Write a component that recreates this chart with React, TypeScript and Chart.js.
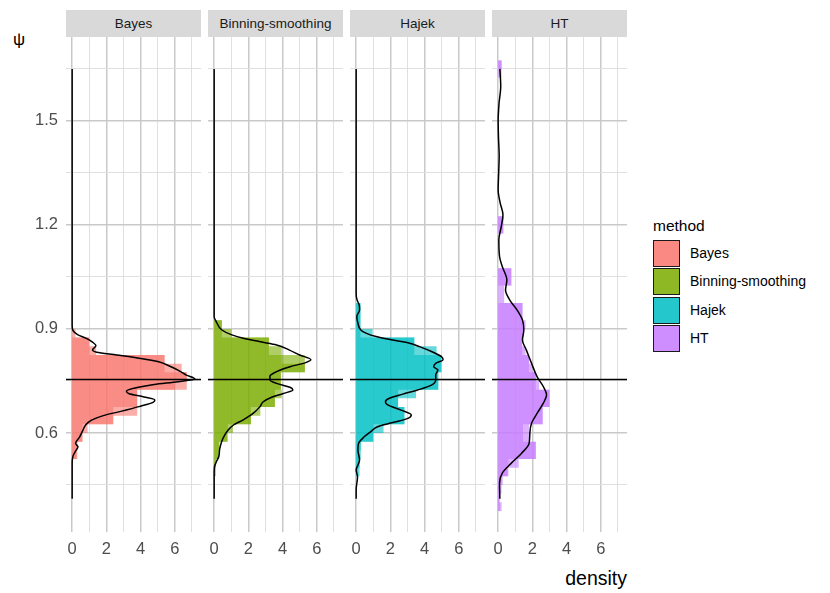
import { useEffect, useRef } from 'react';
import { Chart, registerables } from 'chart.js';

Chart.register(...registerables);

const FONT = '"Liberation Sans", Arial, Helvetica, sans-serif';

const METHODS = ['Bayes', 'Binning-smoothing', 'Hajek', 'HT'];
const METHOD_RGB = ['248,118,109', '124,174,0', '0,191,196', '199,124,255'];

const TRUE_PSI = 0.754;
const PSI_RANGE = [0.3144, 1.742];
const DENSITY_RANGE = [-0.36, 7.53];
const PSI_TICKS = [0.6, 0.9, 1.2, 1.5];
const PSI_MINOR = [0.45, 0.75, 1.05, 1.35, 1.65];
const DENSITY_TICKS = [0, 2, 4, 6];
const DENSITY_MINOR = [1, 3, 5, 7];

// histogram, binwidth 0.05 (bin centres)
const COARSE_WIDTH = 0.05;
const COARSE_PSI = [0.4, 0.45, 0.5, 0.55, 0.6, 0.65, 0.7, 0.75, 0.8, 0.85, 0.9, 0.95, 1.0, 1.05, 1.1, 1.15, 1.2, 1.25, 1.3, 1.35, 1.4, 1.45, 1.5, 1.55, 1.6, 1.65];
const BAYES_COARSE = [0, 0, 0.05, 0.3, 0.6, 2.4, 3.8, 6.7, 5.4, 1.0, 0, 0, 0, 0, 0, 0, 0, 0, 0, 0, 0, 0, 0, 0, 0, 0];
const BINNING_COARSE = [0, 0, 0.1, 0.3, 0.8, 2.15, 3.55, 3.9, 5.3, 3.2, 0.45, 0, 0, 0, 0, 0, 0, 0, 0, 0, 0, 0, 0, 0, 0, 0];
const HAJEK_COARSE = [0, 0, 0.2, 0.27, 1.0, 2.82, 2.45, 4.8, 4.98, 3.4, 0.25, 0.25, 0, 0, 0, 0, 0, 0, 0, 0, 0, 0, 0, 0, 0, 0];
const HT_COARSE = [0.1, 0.2, 0.6, 2.2, 1.45, 2.6, 3.0, 2.2, 1.8, 1.4, 1.45, 1.42, 0.35, 0.77, 0, 0, 0.3, 0, 0, 0, 0, 0, 0, 0, 0, 0.2];

// histogram, binwidth 0.025 (bin centres)
const FINE_WIDTH = 0.025;
const FINE_PSI = [
  0.3875, 0.4125, 0.4375, 0.4625, 0.4875, 0.5125, 0.5375, 0.5625, 0.5875, 0.6125, 0.6375, 0.6625, 0.6875,
  0.7125, 0.7375, 0.7625, 0.7875, 0.8125, 0.8375, 0.8625, 0.8875, 0.9125, 0.9375, 0.9625, 0.9875, 1.0125,
  1.0375, 1.0625, 1.0875, 1.1125, 1.1375, 1.1625, 1.1875, 1.2125, 1.2375, 1.2625, 1.2875, 1.3125, 1.3375,
  1.3625, 1.3875, 1.4125, 1.4375, 1.4625, 1.4875, 1.5125, 1.5375, 1.5625, 1.5875, 1.6125, 1.6375, 1.6625,
];
const BAYES_FINE = [
  0, 0, 0, 0, 0, 0, 0.25, 0.3, 0.6, 0.9, 2.4, 3.8, 3.8,
  3.8, 6.0, 6.7, 6.4, 5.4, 1.4, 1.0, 0.2, 0, 0, 0, 0, 0,
  0, 0, 0, 0, 0, 0, 0, 0, 0, 0, 0, 0, 0,
  0, 0, 0, 0, 0, 0, 0, 0, 0, 0, 0, 0, 0,
];
const BINNING_FINE = [
  0, 0, 0, 0, 0, 0.1, 0.25, 0.3, 0.75, 1.1, 2.15, 2.7, 3.55,
  3.95, 3.9, 3.9, 5.3, 3.95, 3.95, 3.2, 1.03, 0.45, 0, 0, 0, 0,
  0, 0, 0, 0, 0, 0, 0, 0, 0, 0, 0, 0, 0,
  0, 0, 0, 0, 0, 0, 0, 0, 0, 0, 0, 0, 0,
];
const HAJEK_FINE = [
  0, 0, 0, 0, 0.1, 0.2, 0.2, 0.27, 1.0, 1.6, 2.82, 2.82, 2.45,
  3.5, 4.8, 4.8, 4.98, 4.98, 4.7, 3.4, 0.96, 0.25, 0.25, 0.25, 0, 0,
  0, 0, 0, 0, 0, 0, 0, 0, 0, 0, 0, 0, 0,
  0, 0, 0, 0, 0, 0, 0, 0, 0, 0, 0, 0, 0,
];
const HT_FINE = [
  0.2, 0.05, 0.1, 0.27, 0.55, 1.2, 2.2, 2.2, 1.8, 1.8, 2.6, 2.6, 3.0,
  3.0, 2.4, 2.2, 2.0, 1.8, 1.6, 1.4, 1.45, 1.6, 1.42, 1.42, 0, 0,
  0.77, 0.77, 0, 0, 0, 0, 0.3, 0.3, 0, 0, 0, 0, 0,
  0, 0, 0, 0, 0, 0, 0, 0, 0, 0, 0, 0, 0.2,
];

// kernel density curves
const BAYES_CURVE_PSI = [0.41, 0.51, 0.527, 0.537, 0.551, 0.56, 0.57, 0.589, 0.604, 0.623, 0.637, 0.65, 0.663, 0.676, 0.689, 0.695, 0.704, 0.714, 0.721, 0.731, 0.74, 0.748, 0.756, 0.767, 0.777, 0.791, 0.806, 0.815, 0.825, 0.833, 0.839, 0.852, 0.862, 0.873, 0.883, 0.895, 0.91, 1.65];
const BAYES_CURVE = [0, 0, 0.02, 0.08, 0.24, 0.34, 0.2, 0.44, 0.59, 0.79, 1.13, 1.82, 2.9, 3.9, 4.75, 4.83, 4.2, 3.3, 3.17, 3.8, 4.79, 6.18, 7.17, 6.67, 6.34, 5.78, 5.0, 4.0, 2.6, 1.43, 1.19, 1.39, 1.19, 0.83, 0.34, 0.05, 0, 0];
const BINNING_CURVE_PSI = [0.41, 0.484, 0.503, 0.517, 0.532, 0.556, 0.585, 0.609, 0.623, 0.638, 0.657, 0.676, 0.69, 0.703, 0.714, 0.724, 0.732, 0.743, 0.753, 0.764, 0.777, 0.791, 0.803, 0.811, 0.825, 0.839, 0.854, 0.863, 0.873, 0.883, 0.897, 0.921, 0.935, 1.65];
const BINNING_CURVE = [0, 0, 0.02, 0.13, 0.27, 0.33, 0.52, 0.83, 1.13, 1.7, 2.29, 2.68, 2.87, 3.36, 4.04, 4.6, 4.43, 3.65, 3.26, 3.26, 3.65, 4.43, 5.35, 5.65, 5.0, 4.4, 3.65, 2.7, 1.7, 1.03, 0.45, 0.12, 0, 0];
const HAJEK_CURVE_PSI = [0.41, 0.436, 0.474, 0.493, 0.522, 0.551, 0.57, 0.589, 0.604, 0.618, 0.63, 0.642, 0.652, 0.666, 0.681, 0.69, 0.7, 0.712, 0.724, 0.738, 0.753, 0.767, 0.782, 0.791, 0.801, 0.811, 0.82, 0.835, 0.849, 0.859, 0.868, 0.878, 0.888, 0.897, 0.917, 0.936, 0.955, 0.969, 0.984, 1.0, 1.65];
const HAJEK_CURVE = [0, 0, 0.08, 0, 0.2, 0.1, 0.14, 0.47, 0.86, 1.25, 2.14, 3.02, 3.22, 2.63, 1.84, 1.71, 1.94, 2.73, 3.6, 4.4, 4.65, 4.65, 4.78, 4.53, 4.65, 5.08, 4.98, 4.4, 3.7, 3.12, 2.14, 1.16, 0.57, 0.27, 0.1, 0.04, 0.2, 0.18, 0.05, 0, 0];
const HT_CURVE_PSI = [0.41, 0.455, 0.484, 0.513, 0.541, 0.57, 0.599, 0.628, 0.657, 0.686, 0.71, 0.734, 0.762, 0.801, 0.839, 0.868, 0.897, 0.926, 0.955, 0.984, 1.012, 1.041, 1.08, 1.109, 1.157, 1.195, 1.229, 1.263, 1.301, 1.35, 1.4, 1.45, 1.5, 1.55, 1.6, 1.65];
const HT_CURVE = [0.1, 0.08, 0.24, 0.77, 1.36, 1.81, 1.85, 1.95, 2.28, 2.64, 2.83, 2.64, 2.28, 1.95, 1.65, 1.42, 1.5, 1.42, 1.1, 0.67, 0.43, 0.51, 0.24, 0.08, 0.04, 0.18, 0.28, 0.12, 0, 0.03, 0.06, 0.02, 0, 0.05, 0.15, 0.1];

const COARSE = [BAYES_COARSE, BINNING_COARSE, HAJEK_COARSE, HT_COARSE];
const FINE = [BAYES_FINE, BINNING_FINE, HAJEK_FINE, HT_FINE];
const CURVE_PSI = [BAYES_CURVE_PSI, BINNING_CURVE_PSI, HAJEK_CURVE_PSI, HT_CURVE_PSI];
const CURVE = [BAYES_CURVE, BINNING_CURVE, HAJEK_CURVE, HT_CURVE];

const PANEL_LEFT = [66, 208, 350, 492];
const PANEL_W = 135;
const PANEL_TOP = 37;
const PANEL_H = 495;
const Y_AXIS_W = 66;
const X_AXIS_H = 30;

const MAJOR_GRID = '#C9C9C9';
const MINOR_GRID = '#DCDCDC';

// histogram outline: one point per bin at its lower edge, closed at the top edge
function histogramPoints(centres: number[], values: number[], width: number) {
  const pts = centres.map((c, i) => ({ x: values[i], y: c - width / 2 }));
  pts.push({ x: 0, y: centres[centres.length - 1] + width / 2 });
  return pts;
}

function FacetPanel({ index }: { index: number }) {
  const canvasRef = useRef<HTMLCanvasElement>(null);
  const first = index === 0;

  useEffect(() => {
    if (!canvasRef.current) return;
    const ctx = canvasRef.current.getContext('2d');
    if (!ctx) return;
    const rgb = METHOD_RGB[index];
    const histStyle = {
      type: 'line',
      yAxisID: 'y',
      stepped: 'after',
      fill: { value: 0 },
      backgroundColor: `rgba(${rgb},0.6)`,
      borderWidth: 0,
      pointRadius: 0,
    };

    const chart = new Chart(ctx, {
      type: 'line',
      data: {
        datasets: [
          {
            ...histStyle,
            label: 'binwidth 0.05',
            data: histogramPoints(COARSE_PSI, COARSE[index], COARSE_WIDTH),
            order: 3,
          },
          {
            ...histStyle,
            label: 'binwidth 0.025',
            data: histogramPoints(FINE_PSI, FINE[index], FINE_WIDTH),
            order: 2,
          },
          {
            type: 'line',
            label: 'density',
            yAxisID: 'y',
            data: CURVE_PSI[index].map((p, i) => ({ x: CURVE[index][i], y: p })),
            borderColor: '#000',
            borderWidth: 1.5,
            pointRadius: 0,
            cubicInterpolationMode: 'monotone',
            fill: false,
            order: 1,
          },
          {
            type: 'line',
            label: 'truth',
            yAxisID: 'y',
            data: DENSITY_RANGE.map((x) => ({ x, y: TRUE_PSI })),
            borderColor: '#000',
            borderWidth: 1.5,
            pointRadius: 0,
            fill: false,
            order: 0,
          },
        ] as any,
      },
      options: {
        indexAxis: 'y',
        responsive: true,
        maintainAspectRatio: false,
        animation: false,
        layout: { padding: 0 },
        plugins: { legend: { display: false }, tooltip: { enabled: false } },
        scales: {
          x: {
            type: 'linear',
            position: 'bottom',
            min: DENSITY_RANGE[0],
            max: DENSITY_RANGE[1],
            offset: false,
            afterBuildTicks: (s: any) => {
              s.ticks = [...DENSITY_TICKS, ...DENSITY_MINOR].sort((a, b) => a - b).map((value) => ({ value }));
            },
            afterFit: (s: any) => {
              s.height = X_AXIS_H;
              s.paddingLeft = 0;
              s.paddingRight = 0;
            },
            border: { display: false },
            grid: {
              offset: false,
              drawTicks: false,
              color: (c: any) => (DENSITY_TICKS.includes(c.tick?.value) ? MAJOR_GRID : MINOR_GRID),
              lineWidth: (c: any) => (DENSITY_TICKS.includes(c.tick?.value) ? 1.5 : 0.9),
            },
            ticks: {
              autoSkip: false,
              maxRotation: 0,
              padding: 8,
              color: '#4D4D4D',
              font: { family: FONT, size: 16.5 },
              callback: (v: any) => (DENSITY_TICKS.includes(Number(v)) ? String(v) : ''),
            },
          },
          y: {
            type: 'linear',
            position: 'left',
            min: PSI_RANGE[0],
            max: PSI_RANGE[1],
            offset: false,
            afterBuildTicks: (s: any) => {
              s.ticks = [...PSI_TICKS, ...PSI_MINOR].sort((a, b) => a - b).map((value) => ({ value }));
            },
            afterFit: (s: any) => {
              s.width = first ? Y_AXIS_W : 0;
              s.paddingTop = 0;
              s.paddingBottom = 0;
            },
            border: { display: false },
            grid: {
              offset: false,
              drawTicks: false,
              color: (c: any) => (PSI_TICKS.includes(c.tick?.value) ? MAJOR_GRID : MINOR_GRID),
              lineWidth: (c: any) => (PSI_TICKS.includes(c.tick?.value) ? 1.5 : 0.9),
            },
            ticks: {
              display: first,
              autoSkip: false,
              padding: 8,
              color: '#4D4D4D',
              font: { family: FONT, size: 16.5 },
              callback: (v: any) => (PSI_TICKS.includes(Number(v)) ? Number(v).toFixed(1) : ''),
            },
          },
        },
      } as any,
    });

    return () => chart.destroy();
  }, [index, first]);

  const left = PANEL_LEFT[index] - (first ? Y_AXIS_W : 0);
  const width = PANEL_W + (first ? Y_AXIS_W : 0);
  return (
    <>
      <div
        style={{
          position: 'absolute',
          left: PANEL_LEFT[index],
          top: 10,
          width: PANEL_W,
          height: 27,
          background: '#D9D9D9',
          color: '#1A1A1A',
          fontFamily: FONT,
          fontSize: 13.5,
          lineHeight: '27px',
          textAlign: 'center',
          whiteSpace: 'nowrap',
        }}
      >
        {METHODS[index]}
      </div>
      <div style={{ position: 'absolute', left, top: PANEL_TOP, width, height: PANEL_H + X_AXIS_H }}>
        <canvas ref={canvasRef} />
      </div>
    </>
  );
}

export default function App() {
  return (
    <div
      style={{
        position: 'absolute',
        left: 0,
        top: 0,
        width: 830,
        height: 593,
        background: '#fff',
        overflow: 'hidden',
        fontFamily: FONT,
      }}
    >
      <div style={{ position: 'absolute', left: 13, top: 30, fontSize: 17, color: '#000' }}>ψ</div>
      {METHODS.map((m, i) => (
        <FacetPanel key={m} index={i} />
      ))}
      <div
        style={{
          position: 'absolute',
          right: 830 - 627,
          top: 566,
          fontSize: 19.5,
          color: '#000',
          lineHeight: '25px',
        }}
      >
        density
      </div>
      <div style={{ position: 'absolute', left: 653, top: 215, fontSize: 15.5, lineHeight: '22px', color: '#000' }}>
        method
      </div>
      {METHODS.map((m, i) => (
        <div key={m}>
          <div
            style={{
              position: 'absolute',
              left: 653,
              top: 240 + i * 28.4,
              width: 27,
              height: 27,
              boxSizing: 'border-box',
              border: '1.6px solid #1A1A1A',
              background: `rgba(${METHOD_RGB[i]},0.86)`,
            }}
          />
          <div
            style={{
              position: 'absolute',
              left: 690,
              top: 240 + i * 28.4,
              height: 27,
              lineHeight: '27px',
              fontSize: 14,
              color: '#000',
              whiteSpace: 'nowrap',
            }}
          >
            {m}
          </div>
        </div>
      ))}
    </div>
  );
}
